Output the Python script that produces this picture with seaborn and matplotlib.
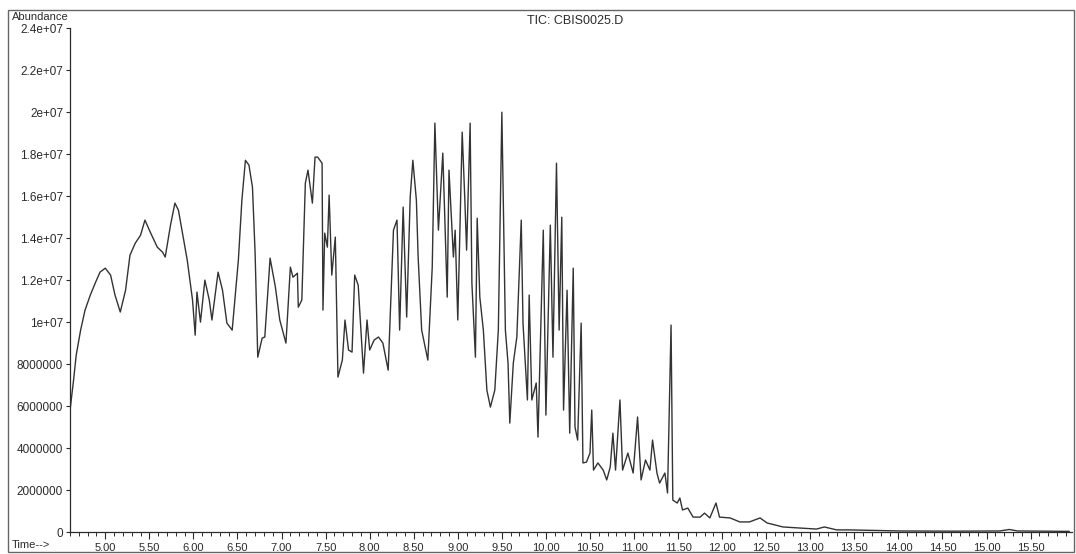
import matplotlib

matplotlib.use("Agg")
import matplotlib.pyplot as plt
from matplotlib.patches import Rectangle
import seaborn as sns


# retention time (min)
TIME_MIN = [
    4.60, 4.64, 4.67, 4.72, 4.77, 4.83, 4.89, 4.94, 5.00, 5.06, 5.11, 5.17, 5.23, 5.28,
    5.34, 5.40, 5.45, 5.51, 5.59, 5.65, 5.68, 5.74, 5.79, 5.83, 5.87, 5.93, 5.99, 6.02,
    6.04, 6.08, 6.13, 6.18, 6.21, 6.28, 6.33, 6.38, 6.44, 6.51, 6.55, 6.59, 6.63, 6.67,
    6.70, 6.73, 6.78, 6.81, 6.87, 6.93, 6.98, 7.05, 7.10, 7.13, 7.18, 7.19, 7.23, 7.27,
    7.30, 7.35, 7.38, 7.41, 7.46, 7.47, 7.49, 7.52, 7.54, 7.57, 7.61, 7.64, 7.69, 7.72,
    7.76, 7.80, 7.83, 7.87, 7.93, 7.97, 8.00, 8.05, 8.10, 8.15, 8.21, 8.27, 8.31, 8.34,
    8.38, 8.42, 8.46, 8.49, 8.53, 8.55, 8.59, 8.66, 8.71, 8.74, 8.78, 8.83, 8.88, 8.90,
    8.95, 8.97, 9.00, 9.05, 9.08, 9.10, 9.14, 9.16, 9.20, 9.22, 9.25, 9.29, 9.33, 9.37,
    9.42, 9.46, 9.50, 9.54, 9.57, 9.59, 9.63, 9.67, 9.72, 9.74, 9.79, 9.81, 9.84, 9.89,
    9.91, 9.97, 10.00, 10.05, 10.08, 10.12, 10.15, 10.18, 10.20, 10.24, 10.27, 10.31,
    10.33, 10.36, 10.40, 10.42, 10.46, 10.50, 10.52, 10.54, 10.59, 10.65, 10.69, 10.73,
    10.76, 10.79, 10.84, 10.87, 10.93, 10.99, 11.04, 11.08, 11.13, 11.18, 11.21, 11.26,
    11.29, 11.35, 11.38, 11.42, 11.44, 11.49, 11.52, 11.55, 11.61, 11.67, 11.75, 11.80,
    11.86, 11.93, 11.97, 12.09, 12.20, 12.31, 12.43, 12.51, 12.69, 12.88, 13.07, 13.16,
    13.30, 13.45, 14.01, 14.64, 15.15, 15.26, 15.35, 15.94,
]

# abundance in millions of counts
ABUNDANCE_M = [
    5.81, 7.24, 8.43, 9.62, 10.57, 11.29, 11.90, 12.38, 12.57, 12.24, 11.29, 10.48, 11.52, 13.19,
    13.76, 14.14, 14.86, 14.29, 13.57, 13.33, 13.10, 14.62, 15.67, 15.33, 14.38, 12.95, 11.05, 9.38,
    11.43, 10.00, 12.00, 11.05, 10.10, 12.38, 11.52, 9.95, 9.62, 12.95, 15.81, 17.71, 17.48, 16.43,
    13.29, 8.33, 9.24, 9.29, 13.05, 11.67, 10.10, 9.00, 12.62, 12.14, 12.33, 10.71, 11.05, 16.62,
    17.24, 15.67, 17.86, 17.86, 17.57, 10.57, 14.24, 13.57, 16.05, 12.24, 14.05, 7.38, 8.19, 10.10,
    8.67, 8.57, 12.24, 11.76, 7.57, 10.10, 8.67, 9.14, 9.29, 9.00, 7.71, 14.38, 14.86, 9.62,
    15.48, 10.24, 15.95, 17.71, 15.81, 13.10, 9.62, 8.19, 12.62, 19.48, 14.38, 18.05, 11.19, 17.24,
    13.10, 14.38, 10.10, 19.05, 15.81, 13.43, 19.48, 11.86, 8.33, 14.95, 11.19, 9.62, 6.76, 5.95,
    6.76, 9.62, 20.00, 9.62, 8.05, 5.19, 8.05, 9.29, 14.86, 9.95, 6.29, 11.29, 6.29, 7.10,
    4.52, 14.38, 5.57, 14.62, 8.33, 17.57, 9.62, 15.00, 5.81, 11.52, 4.71, 12.57,
    5.00, 4.38, 9.95, 3.29, 3.33, 3.76, 5.81, 2.95, 3.29, 2.95, 2.48, 3.10,
    4.71, 2.95, 6.29, 2.95, 3.76, 2.81, 5.48, 2.48, 3.43, 2.95, 4.38, 2.81,
    2.33, 2.81, 1.86, 9.86, 1.52, 1.38, 1.62, 1.05, 1.14, 0.71, 0.71, 0.90,
    0.67, 1.38, 0.71, 0.67, 0.48, 0.48, 0.67, 0.43, 0.24, 0.19, 0.14, 0.24,
    0.10, 0.10, 0.05, 0.04, 0.05, 0.12, 0.05, 0.03,
]

Y_TICKS_M = [0, 2, 4, 6, 8, 10, 12, 14, 16, 18, 20, 22, 24]
Y_TICK_LABELS = [
    "0", "2000000", "4000000", "6000000", "8000000", "1e+07", "1.2e+07",
    "1.4e+07", "1.6e+07", "1.8e+07", "2e+07", "2.2e+07", "2.4e+07",
]
X_TICKS = [5.0, 5.5, 6.0, 6.5, 7.0, 7.5, 8.0, 8.5, 9.0, 9.5, 10.0, 10.5,
           11.0, 11.5, 12.0, 12.5, 13.0, 13.5, 14.0, 14.5, 15.0, 15.5]
X_MINOR = [4.6 + 0.1 * i for i in range(114)]

TITLE = "TIC: CBIS0025.D"
INK = "#2b2b2b"


def main() -> None:
    sns.set_style("ticks")
    plt.rcParams["font.family"] = ["Liberation Sans", "DejaVu Sans"]

    fig = plt.figure(figsize=(10.76, 5.54), dpi=100)
    ax = fig.add_axes([0.0651, 0.0397, 0.9312, 0.9093])

    abundance = [v * 1e6 for v in ABUNDANCE_M]
    sns.lineplot(x=TIME_MIN, y=abundance, ax=ax, color="#333333", linewidth=1.0,
                 estimator=None, sort=False)

    ax.set_xlim(4.6, 15.97)
    ax.set_ylim(0, 2.4e7)

    ax.set_yticks([v * 1e6 for v in Y_TICKS_M])
    ax.set_yticklabels(Y_TICK_LABELS, fontsize=8.5, color=INK)
    ax.set_xticks(X_TICKS)
    ax.set_xticklabels([f"{t:.2f}" for t in X_TICKS], fontsize=8, color=INK)
    ax.set_xticks(X_MINOR, minor=True)
    ax.tick_params(axis="x", which="major", length=5, width=0.8, color=INK, pad=3)
    ax.tick_params(axis="x", which="minor", length=3, width=0.7, color=INK)
    ax.tick_params(axis="y", length=3, width=0.8, color=INK, pad=2)

    ax.set_xlabel("")
    ax.set_ylabel("")
    sns.despine(ax=ax)
    for side in ("left", "bottom"):
        ax.spines[side].set_color(INK)
        ax.spines[side].set_linewidth(0.9)

    fig.text(575 / 1076, 1 - 21 / 554, TITLE, ha="center", va="center",
             fontsize=9, color=INK)
    fig.text(12 / 1076, 1 - 17 / 554, "Abundance", ha="left", va="center",
             fontsize=8, color=INK)
    fig.text(12 / 1076, 1 - 545 / 554, "Time-->", ha="left", va="center",
             fontsize=8, color=INK)

    fig.patches.append(Rectangle((8 / 1076, 2 / 554), 1 - 10 / 1076, 1 - 12 / 554,
                                 transform=fig.transFigure, fill=False,
                                 edgecolor="#666666", linewidth=1.0))

    fig.savefig("out.png", dpi=100)
    plt.close(fig)


if __name__ == "__main__":
    main()
